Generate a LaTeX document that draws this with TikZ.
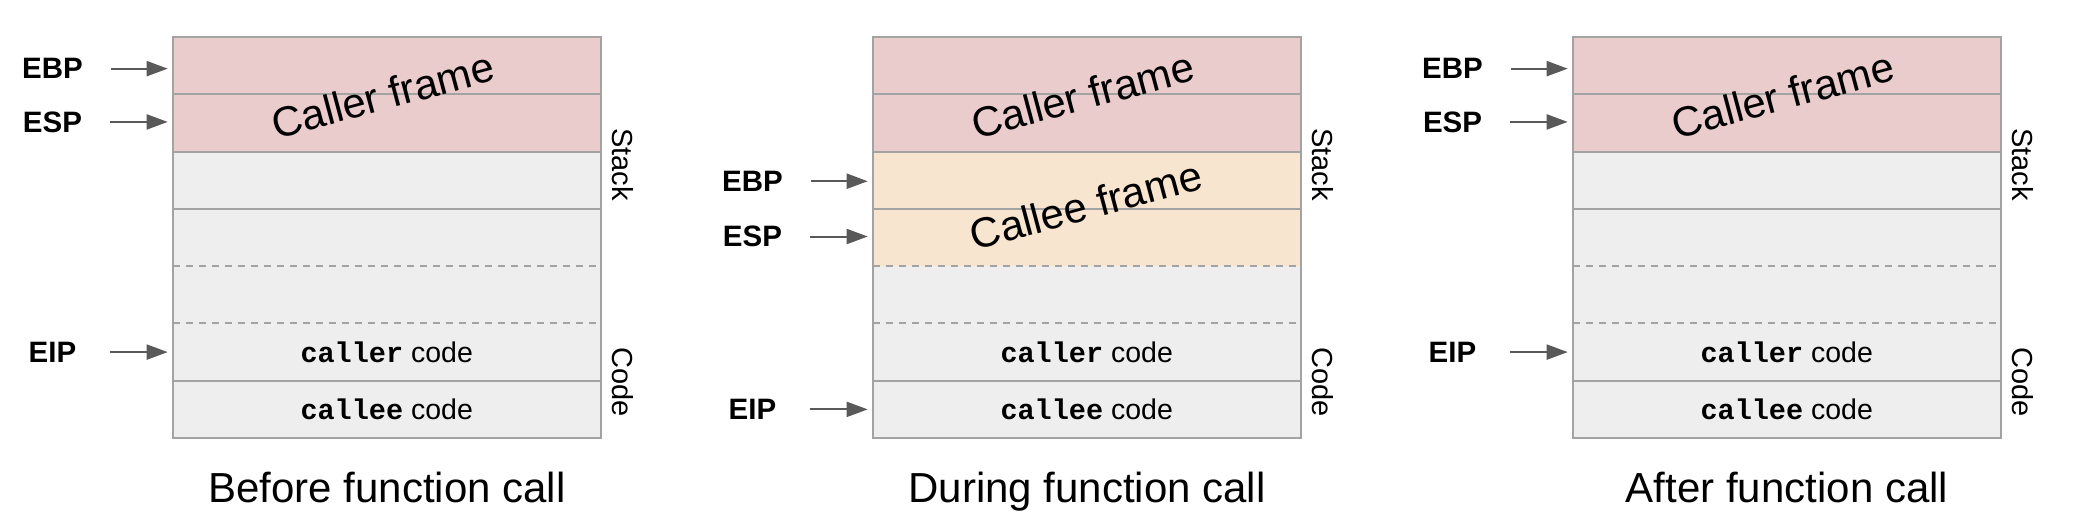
\documentclass[tikz,border=0pt]{standalone}
\usepackage{fontspec}
\setmainfont{Liberation Sans}
\setmonofont{Liberation Mono}
\usetikzlibrary{arrows.meta}
\definecolor{callerfill}{HTML}{EBCCCC}
\definecolor{calleefill}{HTML}{F8E5CF}
\definecolor{stackgray}{HTML}{EEEEEE}
\definecolor{bordergray}{HTML}{A3A3A3}
\definecolor{arrowgray}{HTML}{595959}
\tikzset{
  row/.style={rectangle, minimum width=428pt, minimum height=57.29pt, inner sep=0pt, outer sep=0pt, font=\fontsize{28.5}{34}\selectfont},
  frameline/.style={draw=bordergray, line width=2pt},
  dashsep/.style={draw=bordergray, line width=2pt, dash pattern=on 7pt off 6pt},
  reg/.style={font=\fontsize{29.5}{34}\selectfont\bfseries, minimum width=58pt, inner sep=0pt},
  ptr/.style={draw=arrowgray, line width=2pt, -{Triangle[length=21pt,width=15pt]}, shorten <=28pt, shorten >=5pt},
  side/.style={rotate=-90, font=\fontsize{29}{34}\selectfont, inner sep=0pt},
  framelabel/.style={rotate=15, font=\fontsize{42}{48}\selectfont, inner sep=0pt},
  caption/.style={font=\fontsize{42}{48}\selectfont, anchor=base, inner sep=0pt},
}
\begin{document}
\begin{tikzpicture}[x=1pt,y=-1pt]
\useasboundingbox[fill=white] (0,0) rectangle (2074,530);
\foreach \p/\ox/\ca/\ebp/\esp/\eip/\ebs/\capt in {%
  1/0/stackgray/1/2/6/-3/Before function call,
  2/700/calleefill/3/4/7/-1/During function call,
  3/1400/stackgray/1/2/6/-3/After function call}{
  \node[row, fill=callerfill] (r\p-1) at (\ox+386.7, 65.64) {};
  \node[row, fill=callerfill] (r\p-2) at (\ox+386.7, 122.93) {};
  \node[row, fill=\ca] (r\p-3) at (\ox+386.7, 180.22) {};
  \node[row, fill=\ca] (r\p-4) at (\ox+386.7, 237.51) {};
  \node[row, fill=stackgray] (r\p-5) at (\ox+386.7, 294.80) {};
  \node[row, fill=stackgray] (r\p-6) at (\ox+386.7, 352.09) {\textbf{\ttfamily caller} code};
  \node[row, fill=stackgray] (r\p-7) at (\ox+386.7, 409.38) {\textbf{\ttfamily callee} code};
  % dividers
  \draw[frameline] (r\p-1.south west) -- (r\p-1.south east);
  \draw[frameline] (r\p-2.south west) -- (r\p-2.south east);
  \draw[frameline] (r\p-3.south west) -- (r\p-3.south east);
  \draw[dashsep] (r\p-4.south west) -- (r\p-4.south east);
  \draw[dashsep] (r\p-5.south west) -- (r\p-5.south east);
  \draw[frameline] (r\p-6.south west) -- (r\p-6.south east);
  \draw[frameline] (r\p-1.north west) rectangle (r\p-7.south east);
  % frame label
  \node[framelabel] (cf\p) at (\ox+383, 95) {Caller frame};
  % side labels
  \node[side] (stk\p) at (\ox+623, 164.5) {Stack};
  \node[side] (cod\p) at (\ox+623, 382) {Code};
  % registers
  \node[reg] (ebp\p) at ([xshift=-120.2pt, yshift=\ebs pt]r\p-\ebp.west) {EBP};
  \node[reg] (esp\p) at ([xshift=-120.2pt, yshift=1pt]r\p-\esp.west) {ESP};
  \node[reg] (eip\p) at ([xshift=-120.2pt]r\p-\eip.west) {EIP};
  \draw[ptr] (ebp\p.east) -- (ebp\p.east -| r\p-\ebp.west);
  \draw[ptr] (esp\p.east) -- (esp\p.east -| r\p-\esp.west);
  \draw[ptr] (eip\p.east) -- (eip\p.east -| r\p-\eip.west);
  % caption
  \node[caption] (cap\p) at (\ox+387, 502) {\capt};
}
\node[framelabel] (cef) at (1086, 205) {Callee frame};
\end{tikzpicture}
\end{document}
